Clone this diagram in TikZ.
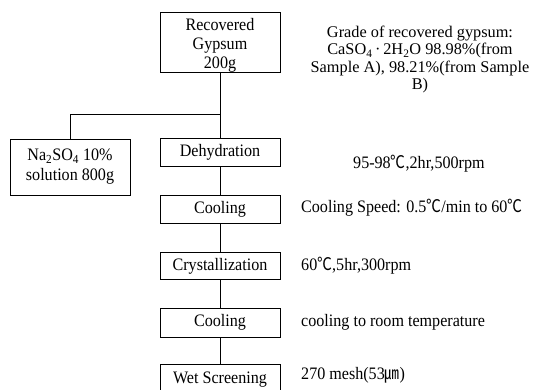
\documentclass[tikz,border=0pt]{standalone}
\usepackage{fontspec}
\setmainfont{Liberation Serif}[FakeStretch=0.92]
\newfontfamily\widefont{Liberation Serif}
\newfontfamily\cjkfont{Noto Sans CJK KR}[FakeStretch=0.85]
\newcommand{\degC}{{\cjkfont ℃}}
\newcommand{\micm}{{\cjkfont ㎛}}
\begin{document}
\begin{tikzpicture}[x=1pt,y=-1pt,
  box/.style={draw,line width=0.9pt,minimum width=120pt,inner sep=0pt,align=center,
    font=\fontsize{17.5}{20}\selectfont},
  link/.style={line width=0.9pt},
  note/.style={anchor=west,inner sep=0pt,font=\fontsize{17.5}{20}\selectfont}]
\useasboundingbox (0,0) rectangle (535,389);
\clip (0,0) rectangle (535,389);
\node[box,minimum height=60pt] (gyp) at (220,42) {\raisebox{-3.5pt}[\height][\depth]{\begin{tabular}{@{}c@{}}Recovered\\[-1pt]Gypsum\\[-1pt]200g\end{tabular}}};
\node[box,minimum height=28pt] (deh) at (220,152.5) {Dehydration};
\node[box,minimum height=56pt] (na) at (70,167) {Na\textsubscript{2}SO\textsubscript{4} 10\%\\solution 800g};
\node[box,minimum height=28pt] (cool1) at (220,209) {Cooling};
\node[box,minimum height=27pt] (cry) at (220,266) {Crystallization};
\node[box,minimum height=29pt] (cool2) at (220,322.5) {Cooling};
\node[box,minimum height=32pt] (wet) at (220,380) {Wet Screening};
\coordinate (br) at (220,114);
\draw[link] (gyp.south) -- (deh.north);
\draw[link] (na.north) |- (br);
\draw[link] (deh.south) -- (cool1.north);
\draw[link] (cool1.south) -- (cry.north);
\draw[link] (cry.south) -- (cool2.north);
\draw[link] (cool2.south) -- (wet.north);
\node[inner sep=0pt,align=center,font=\widefont\fontsize{16.3}{17.5}\selectfont] (grade) at (420,59.5)
  {Grade of recovered gypsum:\\CaSO\textsubscript{4}\,\textperiodcentered\,2H\textsubscript{2}O 98.98\%(from\\Sample A), 98.21\%(from Sample\\B)};
\node[note] (n1) at (353,164) {95-98\degC,2hr,500rpm};
\node[note] (n2) at (301,208) {Cooling Speed: 0.5\degC/min to 60\degC};
\node[note] (n3) at (301,266) {60\degC,5hr,300rpm};
\node[note] (n4) at (301,322) {cooling to room temperature};
\node[note] (n5) at (301,375) {270 mesh(53\micm)};
\end{tikzpicture}
\end{document}
